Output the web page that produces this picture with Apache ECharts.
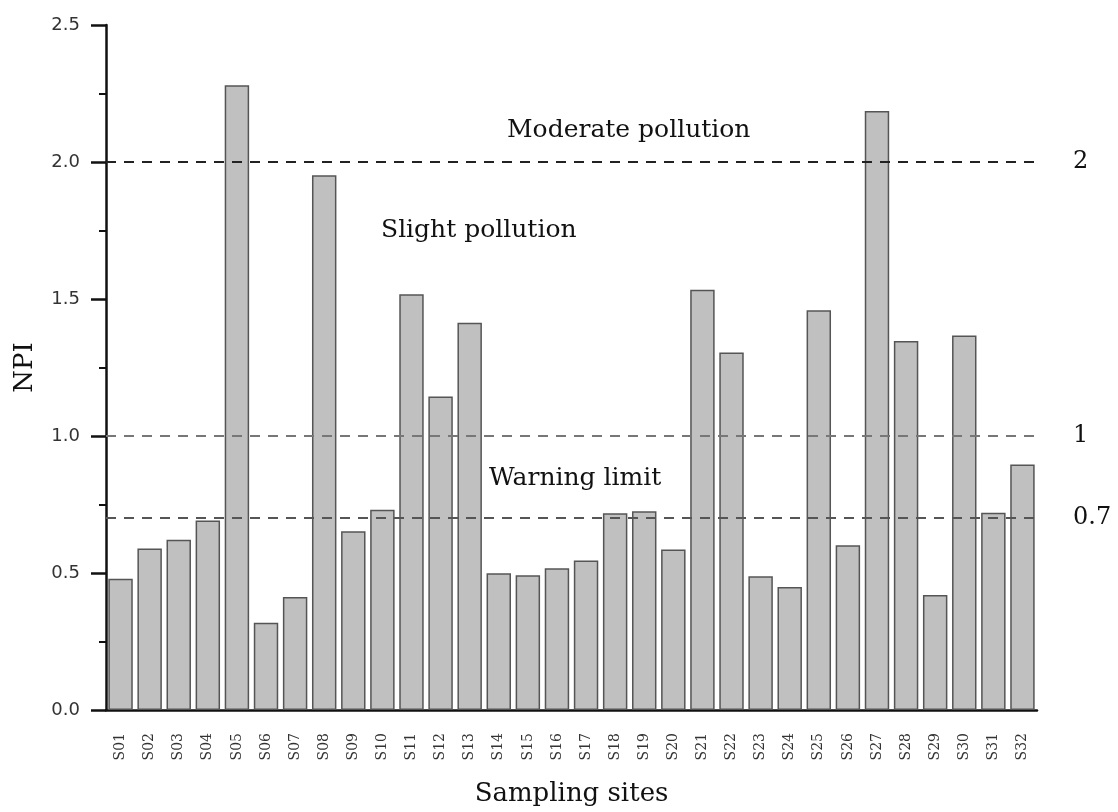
<!DOCTYPE html>
<html>
<head>
<meta charset="utf-8">
<script src="https://cdn.jsdelivr.net/npm/echarts@6/dist/echarts.min.js"></script>
<style>html,body{margin:0;padding:0;background:#fff}#c{width:1118px;height:812px}</style>
</head>
<body>
<div id="c"></div>
<script>
const sites = ['S01','S02','S03','S04','S05','S06','S07','S08','S09','S10','S11','S12','S13','S14','S15','S16','S17','S18','S19','S20','S21','S22','S23','S24','S25','S26','S27','S28','S29','S30','S31','S32'];
const npi = [0.479,0.589,0.621,0.692,2.280,0.318,0.412,1.952,0.652,0.731,1.517,1.144,1.413,0.499,0.492,0.517,0.546,0.718,0.725,0.586,1.534,1.305,0.488,0.449,1.459,0.601,2.186,1.347,0.420,1.367,0.720,0.896];
const thresholds = [2, 1, 0.7];
const thresholdLabels = ['2', '1', '0.7'];
const thresholdColors = ['#222', '#777', '#555'];

const serif = '"DejaVu Serif", "Liberation Serif", serif';
const sans = '"DejaVu Sans", Verdana, sans-serif';

const chart = echarts.init(document.getElementById('c'));
chart.setOption({
  animation: false,
  backgroundColor: '#fff',
  grid: { left: 106, right: 81, top: 25, bottom: 97 },
  xAxis: {
    type: 'category',
    data: sites,
    name: 'Sampling sites',
    nameLocation: 'middle',
    nameGap: 71,
    nameTextStyle: { fontFamily: serif, fontSize: 26, color: '#111' },
    axisLine: { lineStyle: { color: '#111', width: 2.5 } },
    axisTick: { alignWithLabel: true, length: 12, lineStyle: { color: '#111', width: 2.5 } },
    axisLabel: { rotate: 90, interval: 0, fontFamily: serif, fontSize: 14, color: '#333', margin: 23 }
  },
  yAxis: {
    type: 'value',
    min: 0, max: 2.5, interval: 0.5,
    name: 'NPI',
    nameLocation: 'middle',
    nameGap: 68,
    nameRotate: 90,
    nameTextStyle: { fontFamily: serif, fontSize: 26, color: '#111' },
    axisLine: { show: true, lineStyle: { color: '#111', width: 2.5 } },
    axisTick: { show: true, length: 15, lineStyle: { color: '#111', width: 2.5 } },
    minorTick: { show: true, splitNumber: 2, length: 7, lineStyle: { color: '#111', width: 2 } },
    splitLine: { show: false },
    axisLabel: { fontFamily: sans, fontSize: 18, color: '#333', margin: 26, formatter: v => v.toFixed(1) }
  },
  series: [
    {
      type: 'line',
      data: [],
      z: 1,
      silent: true,
      markLine: {
        silent: true,
        symbol: 'none',
        data: thresholds.map((t, i) => ({
          yAxis: t,
          lineStyle: { color: thresholdColors[i], type: [10, 8], width: 2 },
          label: { show: true, position: 'end', distance: 36, formatter: thresholdLabels[i], fontFamily: serif, fontSize: 24, color: '#111' }
        }))
      }
    },
    {
      type: 'bar',
      data: npi,
      z: 3,
      barCategoryGap: '16%',
      itemStyle: { color: '#c0c0c0', borderColor: '#555', borderWidth: 1.5 }
    }
  ],
  graphic: [
    { type: 'text', left: 507, top: 118, style: { text: 'Moderate pollution', font: '25px ' + serif, fill: '#111' } },
    { type: 'text', left: 381, top: 218, style: { text: 'Slight pollution', font: '25px ' + serif, fill: '#111' } },
    { type: 'text', left: 489, top: 466, style: { text: 'Warning limit', font: '25px ' + serif, fill: '#111' } }
  ]
});
</script>
</body>
</html>
